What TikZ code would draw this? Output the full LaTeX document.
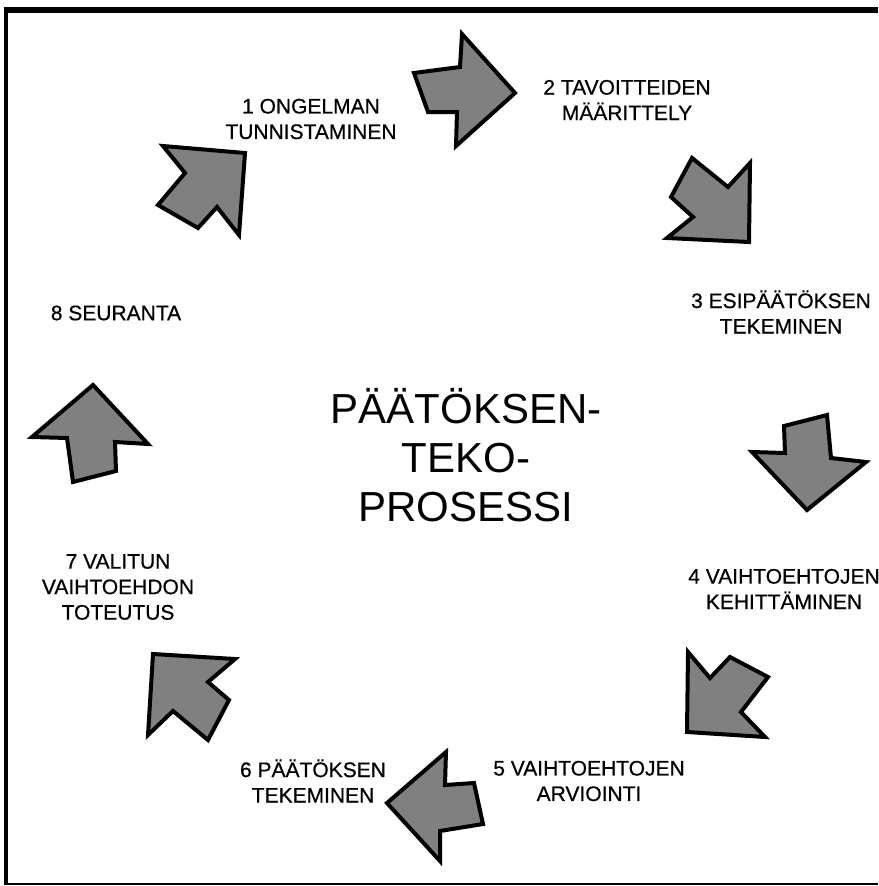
\documentclass[tikz,border=0pt]{standalone}
\usepackage{fontspec}
\setmainfont{Liberation Sans}
\newfontfamily\stagefont[FakeBold=0.6]{Liberation Sans}
\definecolor{arrowgray}{RGB}{128,128,128}
\begin{document}
\begin{tikzpicture}[x=1pt,y=-1pt,
  cyclearrow/.style={fill=arrowgray, draw=black, line width=4pt, line join=miter},
  stage/.style={align=center, font=\stagefont\fontsize{21}{25.5}\selectfont, inner sep=0pt},
  bigtitle/.style={align=center, font=\fontsize{42}{49}\selectfont, inner sep=0pt}]
\useasboundingbox (0,0) rectangle (878,886);

% frame
\draw[line width=6.5pt] (4,10) -- (878,10);
\draw[line width=4pt] (6,8) -- (6,885);
\draw[line width=2.2pt] (5,884.2) -- (878,884.2);

% title
\node[bigtitle] (title) at (466,455) {PÄÄTÖKSEN-\\TEKO-\\PROSESSI};

% stage labels
\node[stage] (s1) at (311,119) {1 ONGELMAN\\TUNNISTAMINEN};
\node[stage] (s2) at (627,100) {2 TAVOITTEIDEN\\MÄÄRITTELY};
\node[stage] (s3) at (781,312) {3 ESIPÄÄTÖKSEN\\TEKEMINEN};
\node[stage] (s4) at (784,589) {4 VAIHTOEHTOJEN\\KEHITTÄMINEN};
\node[stage] (s5) at (589,781) {5 VAIHTOEHTOJEN\\ARVIOINTI};
\node[stage] (s6) at (313,781) {6 PÄÄTÖKSEN\\TEKEMINEN};
\node[stage] (s7) at (118,587) {7 VALITUN\\VAIHTOEHDON\\TOTEUTUS};
\node[stage] (s8) at (116,313) {8 SEURANTA};

% block arrows between the stages
\draw[cyclearrow] (414,73) -- (460,67) -- (462,34) -- (515,93) -- (456,146) -- (457,112) -- (428,112) -- cycle;
\draw[cyclearrow] (163,146) -- (245,153) -- (239,235) -- (217,207) -- (198,228) -- (158,205) -- (185,173) -- cycle;
\draw[cyclearrow] (692,158) -- (728,187) -- (750,163) -- (749,242) -- (667,238) -- (693,217) -- (671,197) -- cycle;
\draw[cyclearrow] (784,426) -- (827,415) -- (831,458) -- (866,462) -- (807,510) -- (752,452) -- (785,453) -- cycle;
\draw[cyclearrow] (688,652) -- (710,678) -- (730,657) -- (768,677) -- (741,712) -- (765,737) -- (687,732) -- cycle;
\draw[cyclearrow] (446,752) -- (445,785) -- (474,783) -- (483,824) -- (440,831) -- (440,861) -- (387,803) -- cycle;
\draw[cyclearrow] (153,654) -- (235,659) -- (208,682) -- (229,700) -- (208,740) -- (173,711) -- (148,735) -- cycle;
\draw[cyclearrow] (93,385) -- (148,444) -- (115,442) -- (116,471) -- (73,482) -- (67,438) -- (32,437) -- cycle;
\end{tikzpicture}
\end{document}
